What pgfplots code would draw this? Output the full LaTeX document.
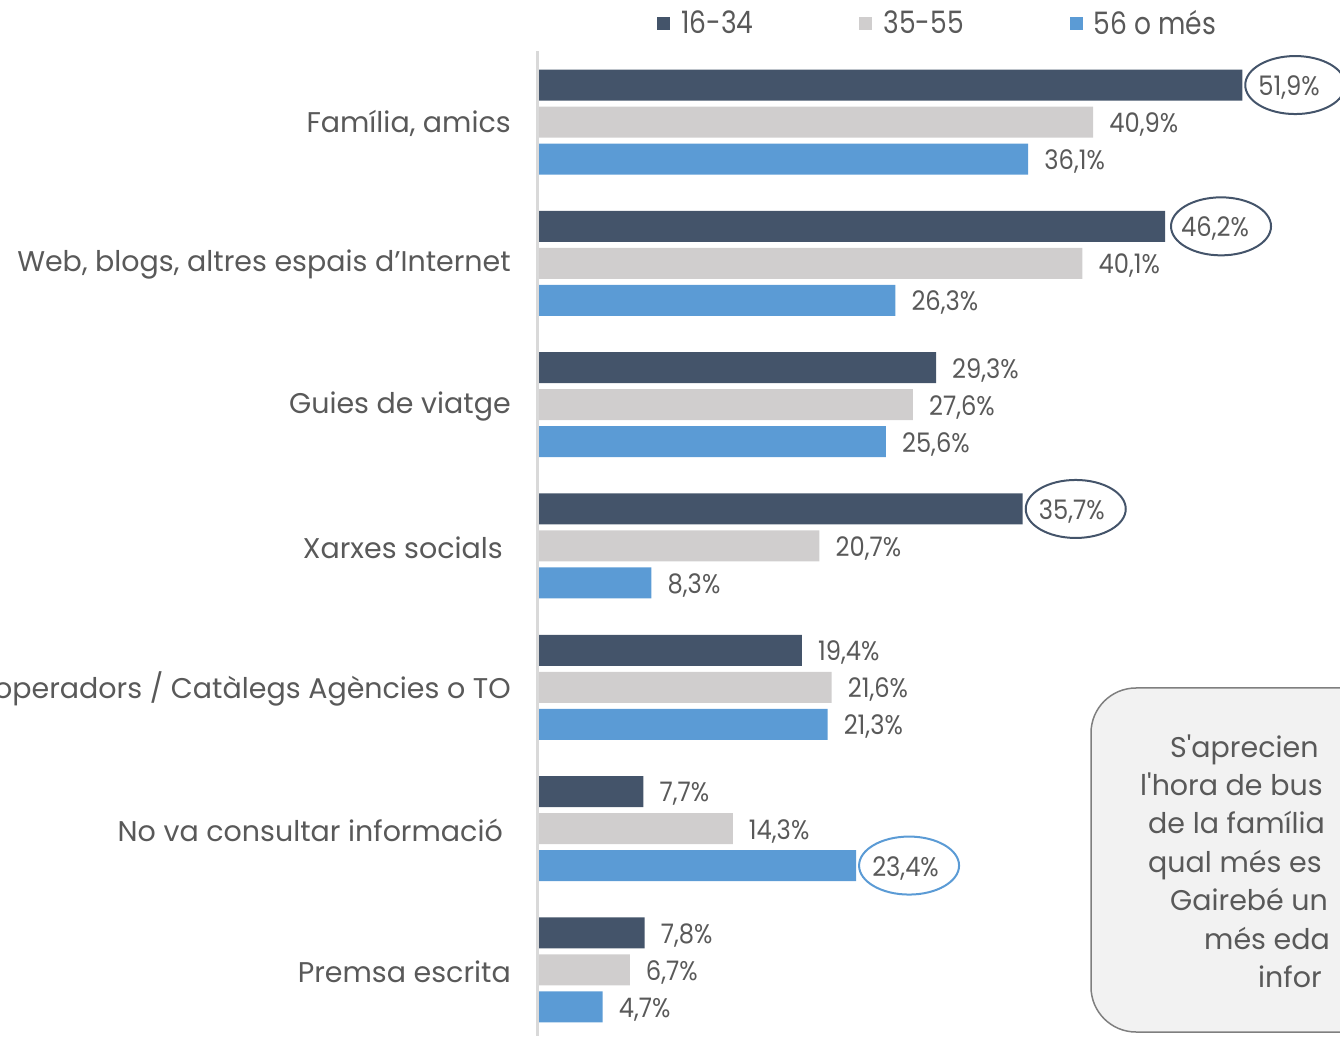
\documentclass[border=0pt]{standalone}
\usepackage{pgfplots}
\pgfplotsset{compat=1.18}
\usepackage{fontspec}
\setmainfont{Poppins}
\newfontfamily\numfamily[FakeStretch=0.9]{Poppins}
\newfontfamily\legfamily[FakeStretch=0.86]{Poppins}
\definecolor{cdark}{HTML}{44546A}
\definecolor{cgray}{HTML}{D0CECE}
\definecolor{cblue}{HTML}{5B9BD5}
\definecolor{ctext}{HTML}{595959}
\definecolor{caxis}{HTML}{D9D9D9}
\definecolor{cbox}{HTML}{F2F2F2}
\definecolor{cboxline}{HTML}{7F7F7F}
\newcommand\catfont{\fontsize{28.6}{34}\selectfont}
\newcommand\numfont{\numfamily\fontsize{27}{32}\selectfont}
\newcommand\legfont{\legfamily\fontsize{31}{36}\selectfont}
\begin{document}
\begin{tikzpicture}[x=1bp,y=1bp]
\useasboundingbox (0,0) rectangle (1340,1036);
\clip (0,0) rectangle (1340,1036);
% note box
\draw[fill=cbox, draw=cboxline, line width=1.5bp, rounded corners=45bp] (1091,1036-1032) rectangle (1700,1036-688);
\begin{scope}[every node/.style={anchor=base west, inner sep=0pt, text=ctext, font=\catfont}]
\node at (1170,1036-757) {S\textquotesingle aprecien};
\node at (1140,1036-795) {l\textquotesingle hora de bus};
\node at (1148,1036-833) {de la família};
\node at (1148,1036-872) {qual més es};
\node at (1170,1036-910) {Gairebé un};
\node at (1204,1036-949) {més eda};
\node at (1258,1036-987) {infor};
\end{scope}
\begin{axis}[
  at={(539bp,0bp)}, anchor=south west,
  scale only axis, width=801bp, height=1036bp,
  xmin=0, xmax=59.115, ymin=-0.468, ymax=6.8634,
  xbar, bar width=31bp,
  hide x axis,
  axis y line*=left,
  y axis line style={draw=none},
  ytick={0,1,2,3,4,5,6},
  yticklabels={{Premsa escrita},{No va consultar informació\hspace*{8bp}},{Touroperadors / Catàlegs Agències o TO},{Xarxes socials\hspace*{8bp}},{Guies de viatge},{Web, blogs, altres espais d’Internet},{Família, amics}},
  major tick length=0pt,
  ytick style={draw=none},
  yticklabel style={font=\catfont, text=ctext, anchor=east, inner sep=0pt, xshift=-28bp, yshift=-1.5bp},
  clip=false,
  nodes near coords={\pgfmathprintnumber[assume math mode=true,use comma,fixed,fixed zerofill,precision=1]{\pgfplotspointmeta}\%},
  nodes near coords style={anchor=west, inner sep=0pt, xshift=16bp, yshift=-2.5bp, font=\numfont, text=ctext},
  legend columns=3,
  legend style={draw=none, fill=none, at={(rel axis cs:0,1)}, anchor=west, xshift=118bp, yshift=-23bp, inner sep=0pt, outer sep=0pt, font=\legfont, text=ctext, nodes={inner sep=0pt}, /tikz/every odd column/.style={column sep=11bp}, /tikz/every even column/.style={column sep=106bp}},
  legend image code/.code={\fill[#1] (0bp,-6.5bp) rectangle (13bp,6.5bp);},
]
\draw[caxis, line width=3bp] ([xshift=-1.5bp]axis cs:0,6.5025) -- ([xshift=-1.5bp]axis cs:0,-0.468);
\addplot[fill=cdark, draw=none, bar shift=37bp] coordinates {(7.8,0) (7.7,1) (19.4,2) (35.7,3) (29.3,4) (46.2,5) (51.9,6)};
\addlegendentry{16-34}
\addplot[fill=cgray, draw=none, bar shift=0bp] coordinates {(6.7,0) (14.3,1) (21.6,2) (20.7,3) (27.6,4) (40.1,5) (40.9,6)};
\addlegendentry{35-55}
\addplot[fill=cblue, draw=none, bar shift=-37bp] coordinates {(4.7,0) (23.4,1) (21.3,2) (8.3,3) (25.6,4) (26.3,5) (36.1,6)};
\addlegendentry{56 o més}
\draw[cdark, line width=2bp] ([xshift=53bp,yshift=37bp]axis cs:51.9,6) ellipse [x radius=50bp, y radius=29bp];
\draw[cdark, line width=2bp] ([xshift=56bp,yshift=37bp]axis cs:46.2,5) ellipse [x radius=50bp, y radius=29bp];
\draw[cdark, line width=2bp] ([xshift=53bp,yshift=37bp]axis cs:35.7,3) ellipse [x radius=50bp, y radius=29bp];
\draw[cblue, line width=2bp] ([xshift=53bp,yshift=-37bp]axis cs:23.4,1) ellipse [x radius=50bp, y radius=29bp];
\end{axis}
\end{tikzpicture}
\end{document}
